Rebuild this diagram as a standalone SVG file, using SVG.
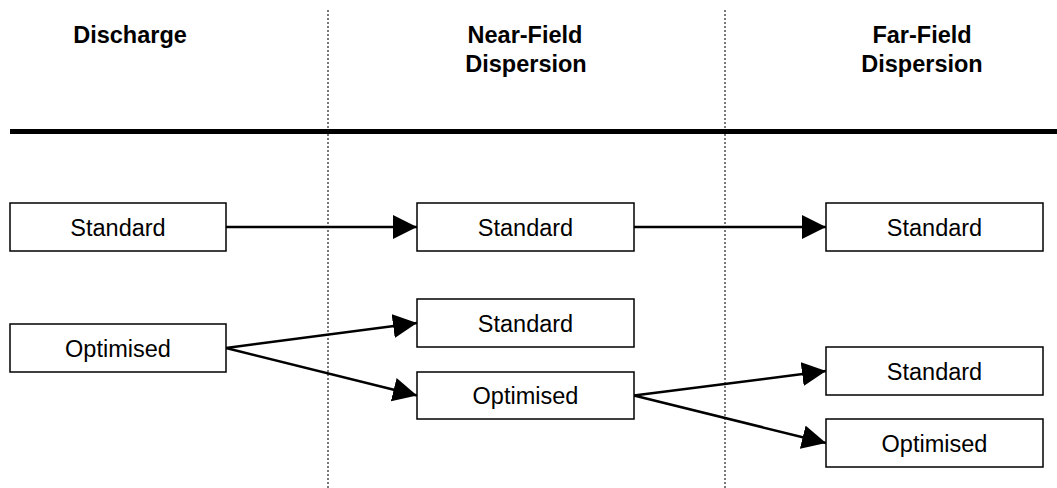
<svg xmlns="http://www.w3.org/2000/svg" width="1057" height="488" viewBox="0 0 1057 488">
<style>
.hdr{font-family:"Liberation Sans",Arial,sans-serif;font-size:23.5px;font-weight:bold;fill:#000;text-anchor:middle}
.lbl{font-family:"Liberation Sans",Arial,sans-serif;font-size:23.5px;fill:#000;text-anchor:middle}
.box{fill:#fff;stroke:#000;stroke-width:1.5}
.conn{stroke:#000;stroke-width:2.5;fill:none}
.div{stroke:#222;stroke-width:1.2;stroke-dasharray:2,2}
</style>
<defs>
<marker id="ah" markerUnits="userSpaceOnUse" markerWidth="24" markerHeight="24" viewBox="0 0 22 22" refX="22" refY="11" orient="auto">
<path d="M0,0 L22,11 L0,22 Z" fill="#000"/>
</marker>
</defs>
<rect width="1057" height="488" fill="#fff"/>
<g id="dividers">
<line class="div" x1="328" y1="10" x2="328" y2="488"/>
<line class="div" x1="725" y1="10" x2="725" y2="488"/>
<line x1="10" y1="131.5" x2="1057" y2="131.5" stroke="#000" stroke-width="5"/>
</g>
<g id="headers">
<text class="hdr" x="130" y="43">Discharge</text>
<text class="hdr" x="525" y="43">Near-Field</text>
<text class="hdr" x="526" y="72">Dispersion</text>
<text class="hdr" x="922" y="43">Far-Field</text>
<text class="hdr" x="922" y="72">Dispersion</text>
</g>
<g id="connectors">
<line class="conn" x1="226" y1="227" x2="417" y2="227" marker-end="url(#ah)"/>
<line class="conn" x1="634" y1="227" x2="826" y2="227" marker-end="url(#ah)"/>
<line class="conn" x1="226" y1="348" x2="417" y2="323" marker-end="url(#ah)"/>
<line class="conn" x1="226" y1="348" x2="417" y2="395.5" marker-end="url(#ah)"/>
<line class="conn" x1="634" y1="395.5" x2="826" y2="371" marker-end="url(#ah)"/>
<line class="conn" x1="634" y1="395.5" x2="826" y2="443" marker-end="url(#ah)"/>
</g>
<g id="d-standard"><rect class="box" x="10" y="203" width="216" height="48"/><text class="lbl" x="118" y="235.5">Standard</text></g>
<g id="d-optimised"><rect class="box" x="10" y="324" width="216" height="48"/><text class="lbl" x="118" y="356.5">Optimised</text></g>
<g id="n-standard-1"><rect class="box" x="417" y="203" width="217" height="48"/><text class="lbl" x="525.5" y="235.5">Standard</text></g>
<g id="n-standard-2"><rect class="box" x="417" y="299" width="217" height="48"/><text class="lbl" x="525.5" y="331.5">Standard</text></g>
<g id="n-optimised"><rect class="box" x="417" y="372" width="217" height="47"/><text class="lbl" x="525.5" y="404">Optimised</text></g>
<g id="f-standard-1"><rect class="box" x="826" y="203" width="217" height="48"/><text class="lbl" x="934.5" y="235.5">Standard</text></g>
<g id="f-standard-2"><rect class="box" x="826" y="347" width="217" height="48"/><text class="lbl" x="934.5" y="379.5">Standard</text></g>
<g id="f-optimised"><rect class="box" x="826" y="419" width="217" height="48"/><text class="lbl" x="934.5" y="451.5">Optimised</text></g>
</svg>
